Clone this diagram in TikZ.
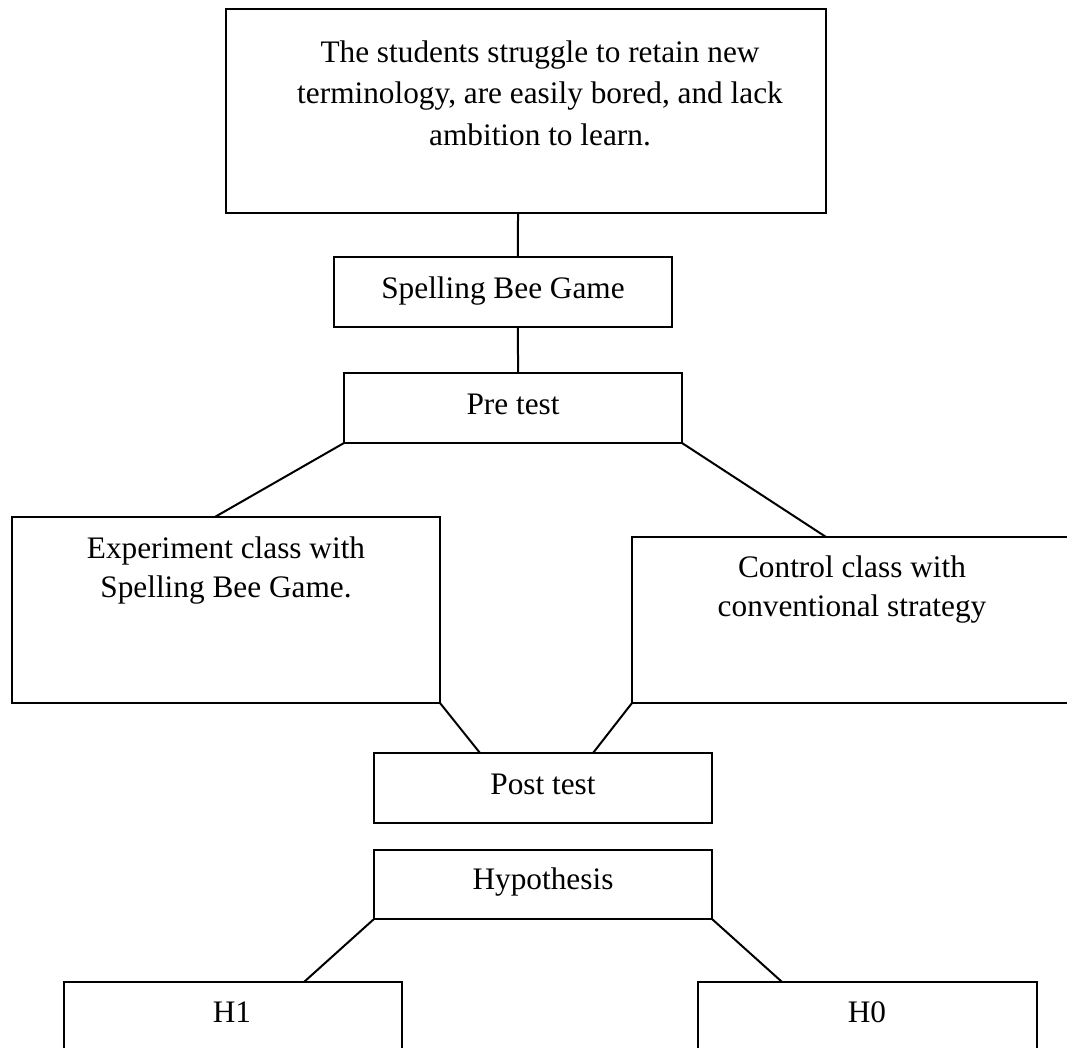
\documentclass[tikz,border=0pt]{standalone}
\usepackage{fontspec}
\setmainfont{Liberation Serif}
\usetikzlibrary{calc}
\tikzset{
  box/.style={draw=black, line width=2pt, inner sep=0pt, outer sep=0pt, anchor=north west},
  txt/.style={inner sep=0pt, outer sep=0pt, anchor=base, align=center,
    font=\fontsize{31.3}{39}\selectfont},
  link/.style={draw=black, line width=2pt}
}
\begin{document}
\begin{tikzpicture}[x=1pt,y=-1pt]
\useasboundingbox (0,0) rectangle (1067,1047);
\clip (0,0) rectangle (1067,1047);
\fill[white] (0,0) rectangle (1067,1047);
% boxes
\node[box, minimum width=600pt, minimum height=204pt] (top) at (226,9) {};
\node[box, minimum width=338pt, minimum height=70pt] (spell) at (334,257) {};
\node[box, minimum width=338pt, minimum height=70pt] (pre) at (344,373) {};
\node[box, minimum width=428pt, minimum height=186pt] (exp) at (12,517) {};
\node[box, minimum width=440pt, minimum height=166pt] (ctrl) at (632,537) {};
\node[box, minimum width=338pt, minimum height=70pt] (post) at (374,753) {};
\node[box, minimum width=338pt, minimum height=69pt] (hyp) at (374,850) {};
\node[box, minimum width=338pt, minimum height=90pt] (hone) at (64,982) {};
\node[box, minimum width=339pt, minimum height=90pt] (hzero) at (698,982) {};
% texts (base anchor = baseline of the last line)
\node[txt, font=\fontsize{31.3}{41.5}\selectfont] (ttop) at (540,145) {The students struggle to retain new\\terminology, are easily bored, and lack\\ambition to learn.};
\node[txt] (tspell) at (503,298) {Spelling Bee Game};
\node[txt] (tpre) at (513,414) {Pre test};
\node[txt] (texp) at (226,597) {Experiment class with\\Spelling Bee Game.};
\node[txt] (tctrl) at (852,616) {Control class with\\conventional strategy};
\node[txt] (tpost) at (543,794) {Post test};
\node[txt] (thyp) at (543,889) {Hypothesis};
\node[txt] (thone) at (232,1022) {H1};
\node[txt] (thzero) at (867,1022) {H0};
% connectors
\draw[link] ($(top.south west)!0.4867!(top.south east)$) -- ($(spell.north west)!0.544!(spell.north east)$);
\draw[link] ($(spell.south west)!0.544!(spell.south east)$) -- ($(pre.north west)!0.515!(pre.north east)$);
\draw[link] (pre.south west) -- ($(exp.north west)!0.474!(exp.north east)$);
\draw[link] (pre.south east) -- ($(ctrl.north west)!0.441!(ctrl.north east)$);
\draw[link] (exp.south east) -- ($(post.north west)!0.3136!(post.north east)$);
\draw[link] (ctrl.south west) -- ($(post.north west)!0.648!(post.north east)$);
\draw[link] (hyp.south west) -- ($(hone.north west)!0.710!(hone.north east)$);
\draw[link] (hyp.south east) -- ($(hzero.north west)!0.248!(hzero.north east)$);
\end{tikzpicture}
\end{document}
